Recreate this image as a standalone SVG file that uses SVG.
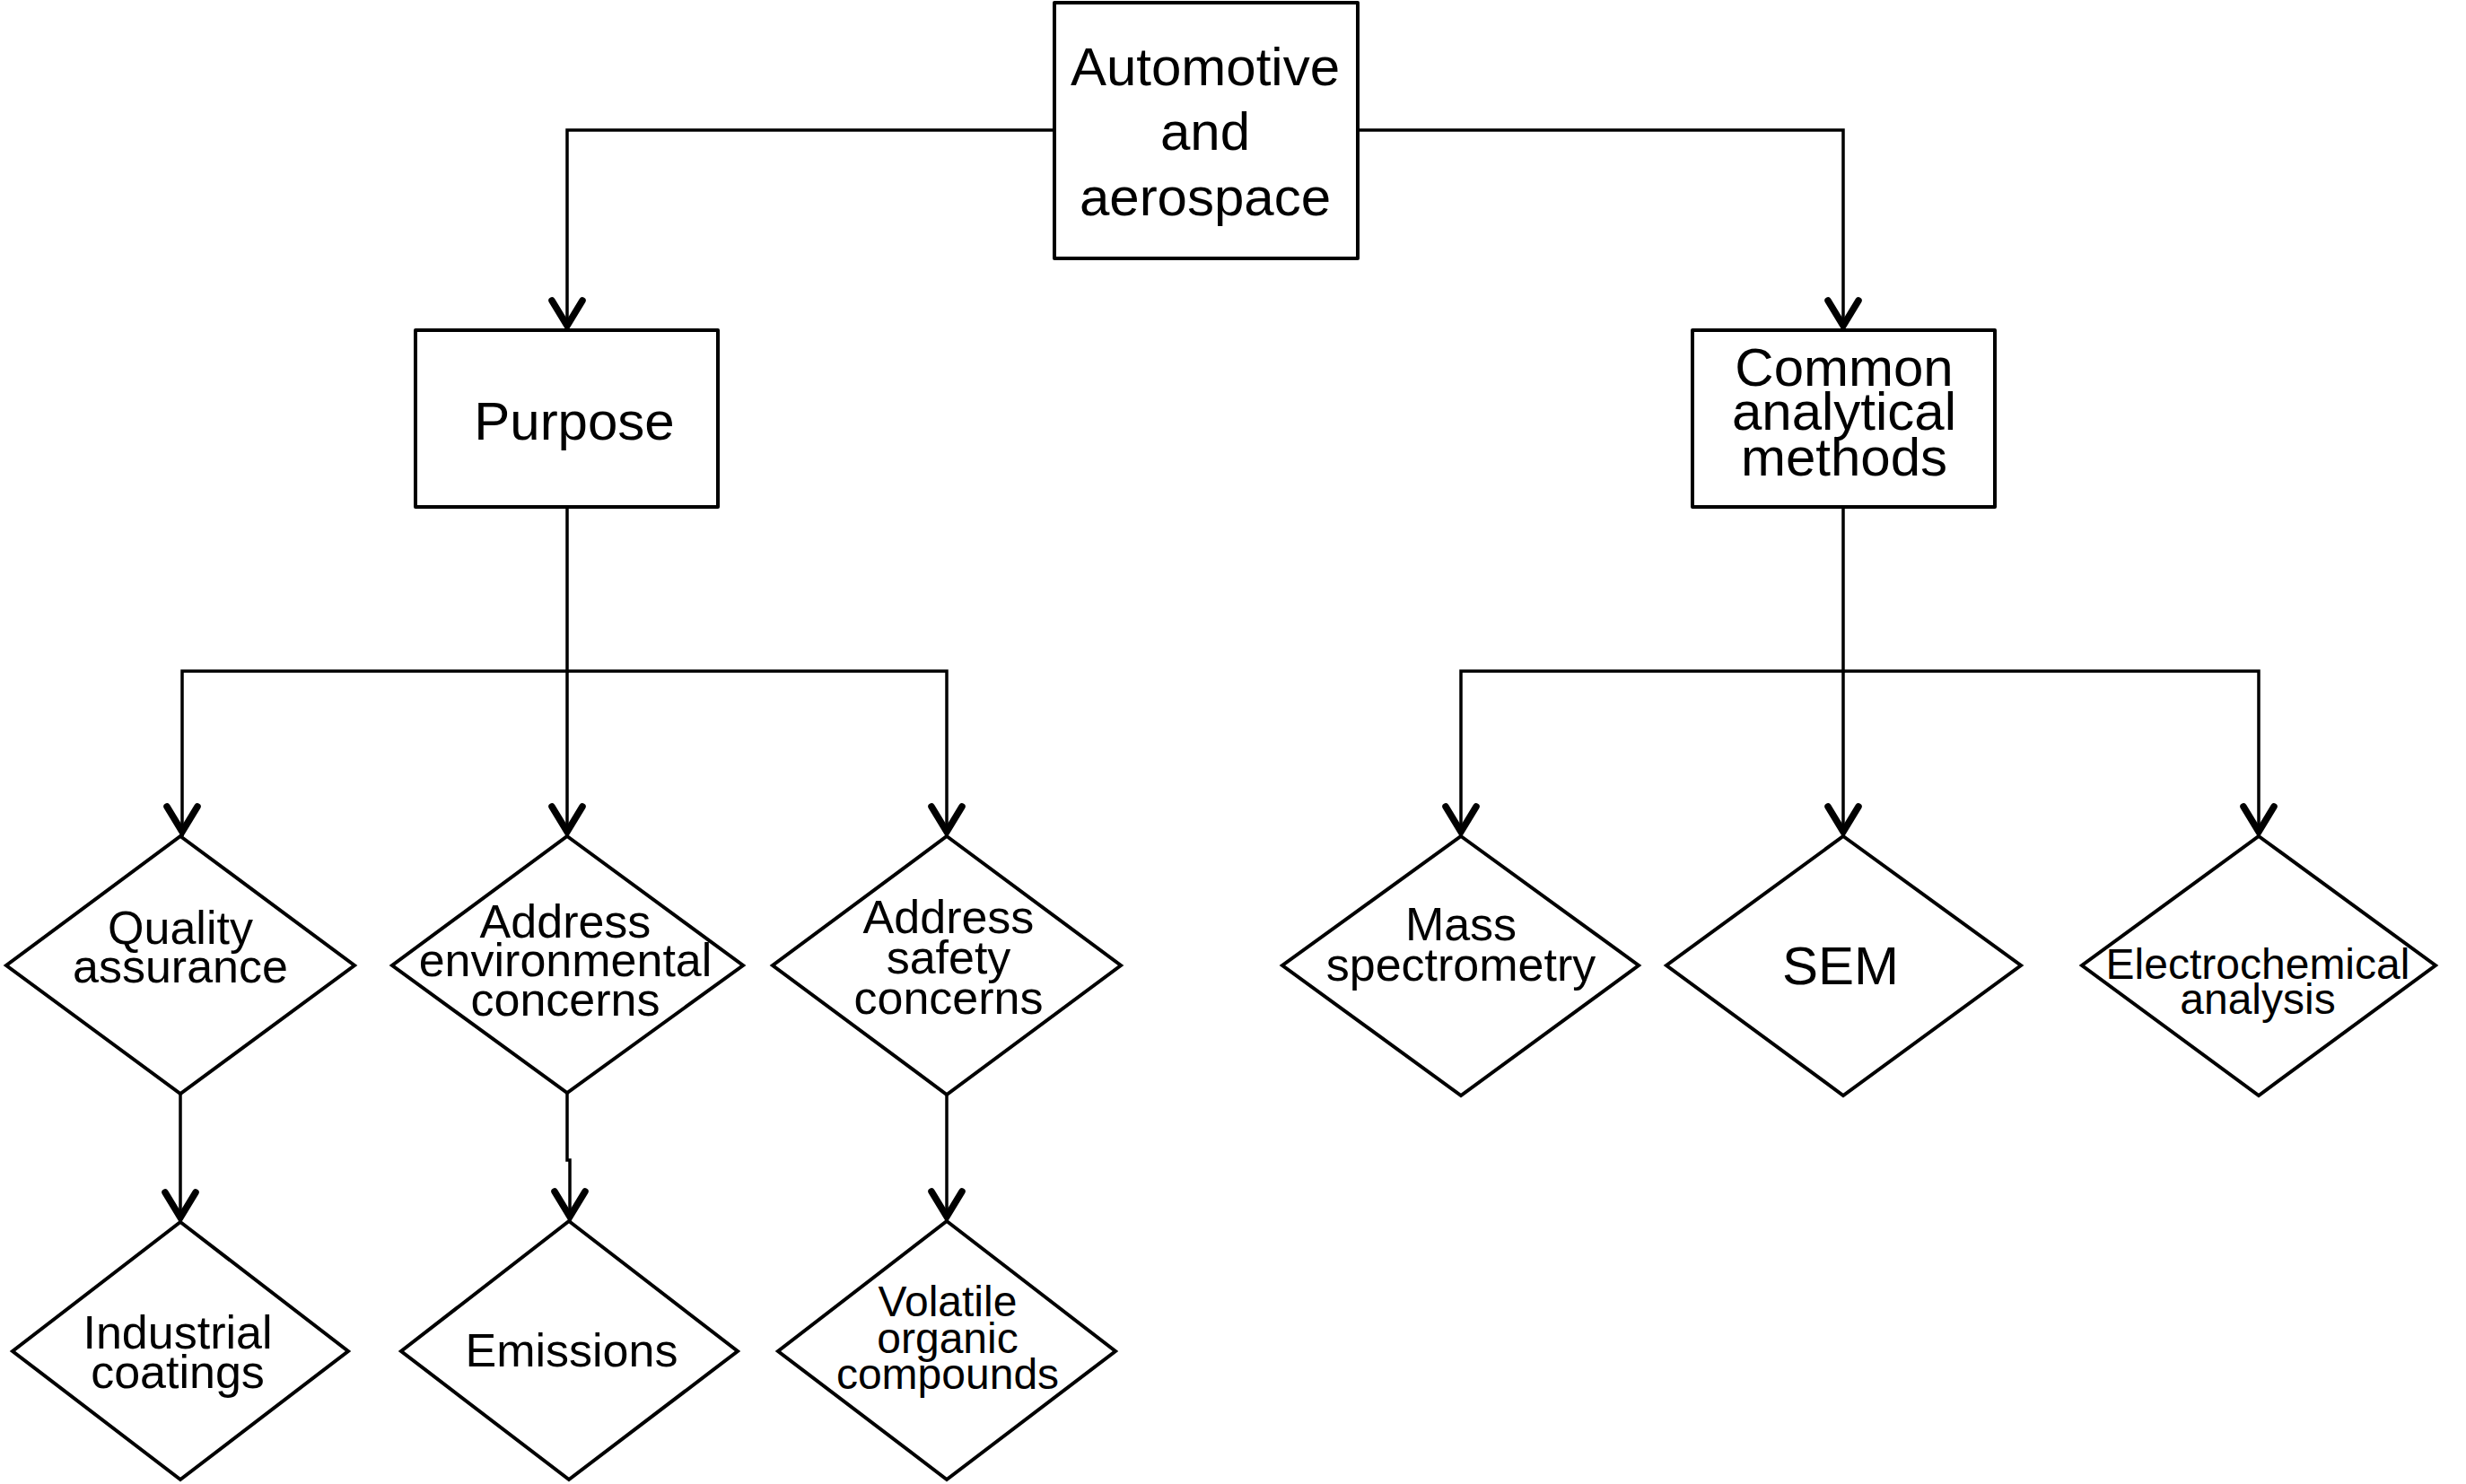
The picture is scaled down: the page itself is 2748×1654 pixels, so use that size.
<svg xmlns="http://www.w3.org/2000/svg" width="2748" height="1654" viewBox="0 0 2748 1654">
<style>
.box{fill:#fff;stroke:#000;stroke-width:4;stroke-linejoin:round}
.dia{fill:#fff;stroke:#000;stroke-width:4;stroke-linejoin:miter}
.con{fill:none;stroke:#000;stroke-width:3.5}
text{font-family:"Liberation Sans",Arial,sans-serif;fill:#000;text-anchor:middle}
.t60{font-size:60px}
.t52{font-size:52px}
.t48{font-size:48px}
</style>
<defs>
<marker id="arr" markerUnits="userSpaceOnUse" viewBox="0 0 44 40" markerWidth="44" markerHeight="40" refX="37" refY="20" orient="auto" overflow="visible">
<path d="M4,3 L32,20 L4,37" fill="none" stroke="#000" stroke-width="7.5" stroke-linecap="round" stroke-linejoin="miter"/>
</marker>
</defs>
<rect width="2748" height="1654" fill="#fff"/>
<g id="connectors">
<path class="con" d="M1175,145 H632 V368" marker-end="url(#arr)"/>
<path class="con" d="M1513,145 H2054 V368" marker-end="url(#arr)"/>
<path class="con" d="M632,565 V748 H203 V932" marker-end="url(#arr)"/>
<path class="con" d="M632,748 V932" marker-end="url(#arr)"/>
<path class="con" d="M632,748 H1055 V932" marker-end="url(#arr)"/>
<path class="con" d="M2054,565 V748 H1628 V932" marker-end="url(#arr)"/>
<path class="con" d="M2054,748 V932" marker-end="url(#arr)"/>
<path class="con" d="M2054,748 H2517 V932" marker-end="url(#arr)"/>
<path class="con" d="M201,1219 V1362" marker-end="url(#arr)"/>
<path class="con" d="M632,1218 V1293 H635 V1361" marker-end="url(#arr)"/>
<path class="con" d="M1055,1220 V1361" marker-end="url(#arr)"/>
</g>
<g id="node-root">
<rect class="box" x="1175" y="3" width="338" height="285"/>
<text class="t60" x="1343" y="95">Automotive</text>
<text class="t60" x="1343" y="167">and</text>
<text class="t60" x="1343" y="240">aerospace</text>
</g>
<g id="node-purpose">
<rect class="box" x="463" y="368" width="337" height="197"/>
<text class="t60" x="640" y="490">Purpose</text>
</g>
<g id="node-methods">
<rect class="box" x="1886" y="368" width="337" height="197"/>
<text class="t60" x="2055" y="430">Common</text>
<text class="t60" x="2055" y="479">analytical</text>
<text class="t60" x="2055" y="530">methods</text>
</g>
<g id="node-quality">
<polygon class="dia" points="201,932 395,1076 201,1219 7,1076"/>
<text class="t52" x="201" y="1052">Quality</text>
<text class="t52" x="201" y="1095">assurance</text>
</g>
<g id="node-environment">
<polygon class="dia" points="632,932 828,1076 632,1218 437,1076"/>
<text class="t52" x="630" y="1045">Address</text>
<text class="t52" x="630" y="1088">environmental</text>
<text class="t52" x="630" y="1132">concerns</text>
</g>
<g id="node-safety">
<polygon class="dia" points="1055,932 1249,1076 1055,1220 861,1076"/>
<text class="t52" x="1057" y="1040">Address</text>
<text class="t52" x="1057" y="1085">safety</text>
<text class="t52" x="1057" y="1130">concerns</text>
</g>
<g id="node-coatings">
<polygon class="dia" points="201,1362 388,1506 201,1649 14,1506"/>
<text class="t52" x="198" y="1503">Industrial</text>
<text class="t52" x="198" y="1547">coatings</text>
</g>
<g id="node-emissions">
<polygon class="dia" points="634,1361 822,1506 634,1649 447,1506"/>
<text class="t52" x="637" y="1523">Emissions</text>
</g>
<g id="node-voc">
<polygon class="dia" points="1055,1361 1243,1506 1055,1649 867,1506"/>
<text class="t48" x="1056" y="1467">Volatile</text>
<text class="t48" x="1056" y="1508">organic</text>
<text class="t48" x="1056" y="1548">compounds</text>
</g>
<g id="node-ms">
<polygon class="dia" points="1628,932 1826,1076 1628,1221 1429,1076"/>
<text class="t52" x="1628" y="1048">Mass</text>
<text class="t52" x="1628" y="1093">spectrometry</text>
</g>
<g id="node-sem">
<polygon class="dia" points="2054,932 2252,1076 2054,1221 1857,1076"/>
<text class="t60" x="2051" y="1097">SEM</text>
</g>
<g id="node-electrochem">
<polygon class="dia" points="2517,932 2714,1076 2517,1221 2320,1076"/>
<text class="t48" x="2516" y="1091">Electrochemical</text>
<text class="t48" x="2516" y="1130">analysis</text>
</g>
</svg>
